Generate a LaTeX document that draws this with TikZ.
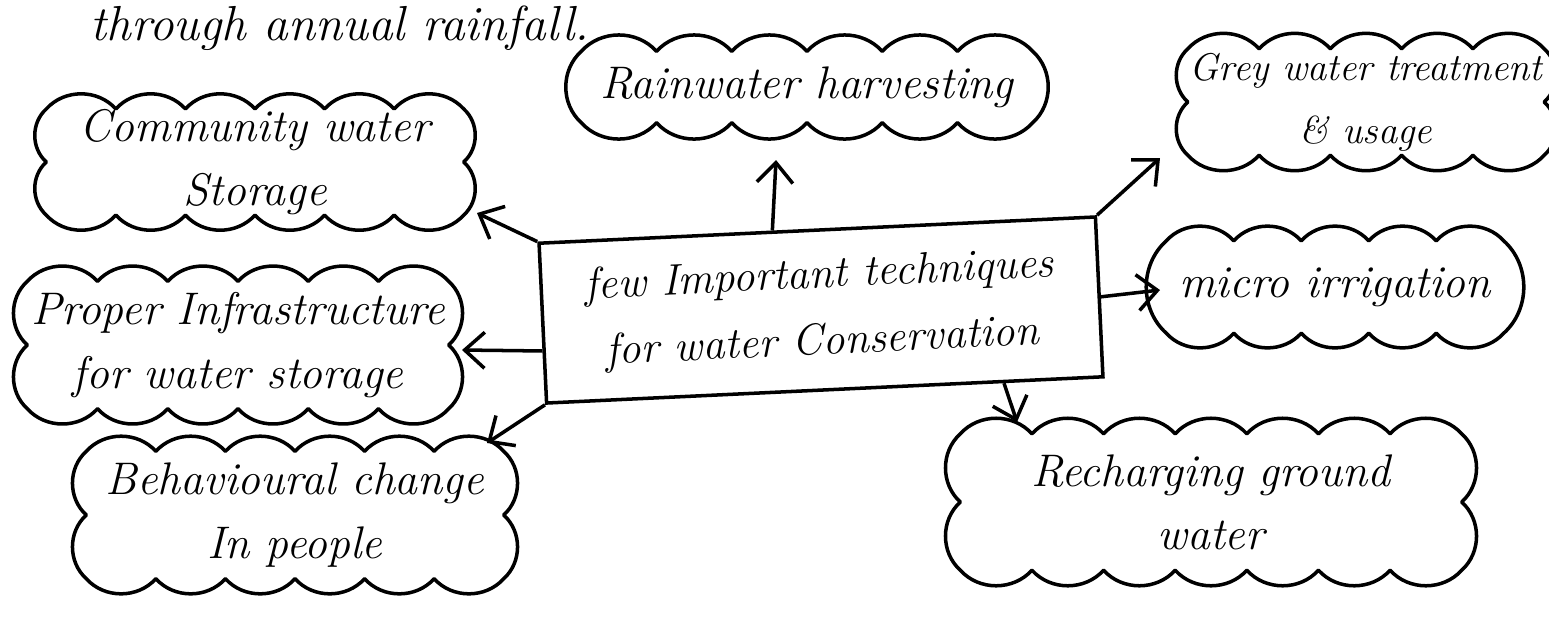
\documentclass[tikz,border=0pt]{standalone}
\usetikzlibrary{arrows.meta,calc}
\newcommand\cloudaround[3]{%
  \draw[cloudline] (#1.north west)
    \foreach \i in {1,...,#2} { to[bend left=48] ($(#1.north west)!\i/#2!(#1.north east)$) }
    \foreach \i in {1,...,#3} { to[bend left=48] ($(#1.north east)!\i/#3!(#1.south east)$) }
    \foreach \i in {1,...,#2} { to[bend left=48] ($(#1.south east)!\i/#2!(#1.south west)$) }
    \foreach \i in {1,...,#3} { to[bend left=48] ($(#1.south west)!\i/#3!(#1.north west)$) };}
\begin{document}
\begin{tikzpicture}[x=0.1mm,y=-0.1mm,
  hand/.style={font=\fontsize{13}{18}\selectfont\itshape, align=center},
  cloudtext/.style={hand, inner sep=0pt},
  cloudline/.style={line width=1pt, line join=round},
  mainbox/.style={draw, line width=1pt, rotate=2.7, minimum width=55.7mm, minimum height=16mm,
                  font=\fontsize{12.5}{19}\selectfont\itshape, align=center},
  link/.style={draw, line width=1pt, -{Straight Barb[length=2mm,width=3.6mm]}}]
\useasboundingbox (0,0) rectangle (1549,622);

% top note
\node[hand, font=\fontsize{14}{18}\selectfont\itshape, anchor=base] (note) at (340,40) {through annual rainfall.};

% central box
\node[mainbox] (box) at (821,310) {few Important techniques\\for water Conservation};

% clouds (text areas)
\node[cloudtext, minimum width=45mm, minimum height=7mm] (rain) at (807,87) {Rainwater harvesting};
\node[cloudtext, minimum width=35.5mm, minimum height=10.5mm, font=\fontsize{11}{18}\selectfont\itshape] (grey) at (1366,102) {Grey water treatment\\\& usage};
\node[cloudtext, minimum width=41.6mm, minimum height=10.1mm] (comm) at (255,162) {Community water\\Storage};
\node[cloudtext, minimum width=42mm, minimum height=12.6mm] (prop) at (238,345) {Proper Infrastructure\\for water storage};
\node[cloudtext, minimum width=41.6mm, minimum height=12.6mm] (behav) at (295,515) {Behavioural change\\In people};
\node[cloudtext, minimum width=33.6mm, minimum height=9.1mm] (micro) at (1335,287) {micro irrigation};
\node[cloudtext, minimum width=50mm, minimum height=13.5mm] (rech) at (1211,502) {Recharging ground\\water};

% cloud outlines
\cloudaround{rain}{6}{1}
\cloudaround{grey}{5}{2}
\cloudaround{comm}{6}{2}
\cloudaround{prop}{6}{2}
\cloudaround{behav}{6}{2}
\cloudaround{micro}{5}{1}
\cloudaround{rech}{7}{2}

% arrow tips (free ends)
\coordinate (t1) at (776,160);
\coordinate (t2) at (477,213);
\coordinate (t3) at (462,350);
\coordinate (t4) at (487,443);
\coordinate (t5) at (1160,158);
\coordinate (t6) at (1160,290);
\coordinate (t7) at (1017,422);

% connectors
\draw[link] ($(box.north west)!0.42!(box.north east)$) -- (t1);
\draw[link] (box.north west) -- (t2);
\draw[link] ($(box.north west)!0.67!(box.south west)$) -- (t3);
\draw[link] (box.south west) -- (t4);
\draw[link] (box.north east) -- (t5);
\draw[link] (box.east) -- (t6);
\draw[link] ($(box.south west)!0.82!(box.south east)$) -- (t7);
\end{tikzpicture}
\end{document}
